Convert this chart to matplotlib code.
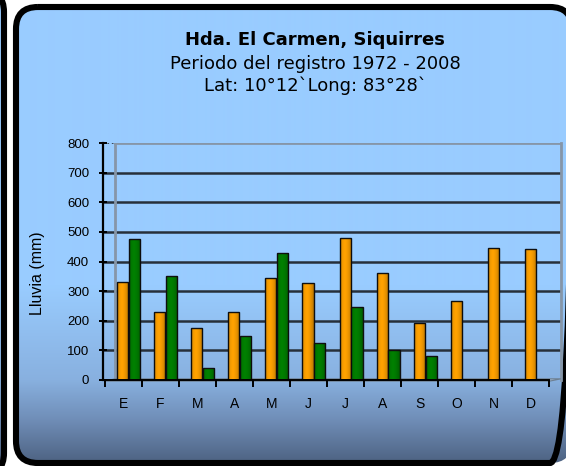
import numpy as np
import matplotlib
matplotlib.use("Agg")
import matplotlib.pyplot as plt
from matplotlib.patches import FancyBboxPatch, Polygon
from matplotlib.colors import to_rgb

# ---- data -------------------------------------------------------------
meses = ["E", "F", "M", "A", "M", "J", "J", "A", "S", "O", "N", "D"]
lluvia_naranja = [330, 228, 176, 228, 345, 326, 478, 362, 193, 267, 445, 442]
lluvia_verde = [477, 352, 40, 150, 428, 126, 245, 100, 82, np.nan, np.nan, np.nan]
y_ticks = [0, 100, 200, 300, 400, 500, 600, 700, 800]
titulo = "Hda. El Carmen, Siquirres"
subtitulo_1 = "Periodo del registro 1972 - 2008"
subtitulo_2 = "Lat: 10°12`Long: 83°28`"
etiqueta_y = "Lluvia (mm)"

# ---- figure & background panels -------------------------------------
W, H = 566, 466
fig = plt.figure(figsize=(W / 100, H / 100), dpi=100)
fig.patch.set_facecolor("white")

bg = fig.add_axes([0, 0, 1, 1])
bg.set_xlim(0, W)
bg.set_ylim(H, 0)
bg.axis("off")

stops = [(0, "#99CCFF"), (285, "#99CCFF"), (380, "#88B0DF"),
         (420, "#6F8DB6"), (466, "#4A5E7D")]
rows = np.arange(H)
grad = np.zeros((H, 1, 3))
for c in range(3):
    grad[:, 0, c] = np.interp(rows, [s[0] for s in stops],
                              [to_rgb(s[1])[c] for s in stops])

def panel(x0, y0, x1, y1):
    p = FancyBboxPatch((x0, y0), x1 - x0, y1 - y0,
                       boxstyle="round,pad=0,rounding_size=22",
                       fc="none", ec="black", lw=4.4, zorder=5)
    bg.add_patch(p)
    im = bg.imshow(grad, extent=[0, W, H, 0], aspect="auto", zorder=1,
                   interpolation="bilinear")
    im.set_clip_path(p)
    return p

panel(-60, -10, 4, 475)
panel(16, 7, 572, 463)
bg.set_xlim(0, W)
bg.set_ylim(H, 0)

# ---- titles -----------------------------------------------------------
cx = 315 / W
fig.text(cx, 1 - 45 / H, titulo, ha="center", va="baseline",
         fontsize=13, fontweight="bold", family="DejaVu Sans")
fig.text(cx, 1 - 69 / H, subtitulo_1, ha="center", va="baseline",
         fontsize=13, family="DejaVu Sans")
fig.text(cx, 1 - 91 / H, subtitulo_2, ha="center", va="baseline",
         fontsize=13, family="DejaVu Sans")

# ---- chart axes -------------------------------------------------------
left_px, right_px, bot_px, top_px = 103, 561, 380, 143
cat_px = 37.08
ax = fig.add_axes([left_px / W, 1 - bot_px / H,
                   (right_px - left_px) / W, (bot_px - top_px) / H])
ax.patch.set_alpha(0)
x0 = -0.5 - (110 - left_px) / cat_px
x1 = x0 + (right_px - left_px) / cat_px
back_left = -0.5 + (115 - 110) / cat_px
depth = 5.5 / cat_px

# back wall and gridlines
for v in y_ticks[1:-1]:
    ax.plot([x0, x1], [v, v], color="#27303a", lw=1.8, zorder=1,
            solid_capstyle="butt")
ax.plot([back_left, x1], [800, 800], color="#8696a8", lw=2, zorder=1)
ax.plot([x0, back_left], [800, 800], color="#27303a", lw=1.2, ls=":", zorder=1)
ax.plot([back_left, back_left], [0, 800], color="#8696a8", lw=2, zorder=1)
ax.plot([x1, x1], [0, 800], color="#8696a8", lw=2, zorder=1, clip_on=False)
floor = Polygon([[x0 + 0.05, -4], [11.5 - depth, -4], [x1, 4], [back_left, 4]],
                closed=True, fc="#9fb3c8", ec="#6d7f92", lw=0.8, zorder=1.5,
                clip_on=False)
ax.add_patch(floor)

x = np.arange(len(meses))
w = 0.3
b1 = ax.bar(x - 0.16, lluvia_naranja, w, color="#FFA200", edgecolor="#111111",
            lw=1.0, zorder=3)
b2 = ax.bar(x + 0.16, lluvia_verde, w, color="#008000", edgecolor="#111111",
            lw=1.0, zorder=3)

# cylinder-style shading on each bar
shade = np.zeros((1, 64, 4))
t = np.linspace(0, 1, 64)
shade[0, :, 3] = 0.28 * np.clip(np.abs(t - 0.42) / 0.58, 0, 1) ** 1.6
for rect in list(b1) + list(b2):
    h = rect.get_height()
    if not np.isfinite(h) or h <= 0:
        continue
    bx = rect.get_x()
    im = ax.imshow(shade, extent=[bx, bx + rect.get_width(), 0, h],
                   aspect="auto", zorder=3.2, interpolation="bilinear")
    im.set_clip_path(rect)

ax.set_xlim(x0, x1)
ax.set_ylim(0, 800)

# axes styling
for s in ["top", "right"]:
    ax.spines[s].set_visible(False)
ax.spines["left"].set_linewidth(1.6)
ax.spines["left"].set_color("black")
ax.spines["bottom"].set_linewidth(1.4)
ax.spines["bottom"].set_color("black")
ax.spines["bottom"].set_bounds(-0.5 - depth, 11.5 - depth)
ax.spines["left"].set_zorder(4)
ax.spines["bottom"].set_zorder(4)

ax.set_yticks(y_ticks)
ax.set_yticklabels([str(v) for v in y_ticks], family="Liberation Sans",
                   fontsize=9.5)
ax.tick_params(axis="y", direction="inout", length=6, width=1.4, pad=7)

ax.set_xticks(np.arange(13) - 0.5 - depth)
ax.set_xticklabels([])
ax.set_xticks(x - depth, minor=True)
ax.set_xticklabels(meses, minor=True, family="Liberation Sans", fontsize=10)
ax.tick_params(axis="x", which="major", direction="out", length=5, width=1.4)
ax.tick_params(axis="x", which="minor", length=0, pad=12)

ax.set_ylabel(etiqueta_y, family="Liberation Sans", fontsize=11.5)
ax.yaxis.set_label_coords((45 - left_px) / (right_px - left_px),
                          (bot_px - 273) / (bot_px - top_px))

fig.savefig("out.png", dpi=100)
